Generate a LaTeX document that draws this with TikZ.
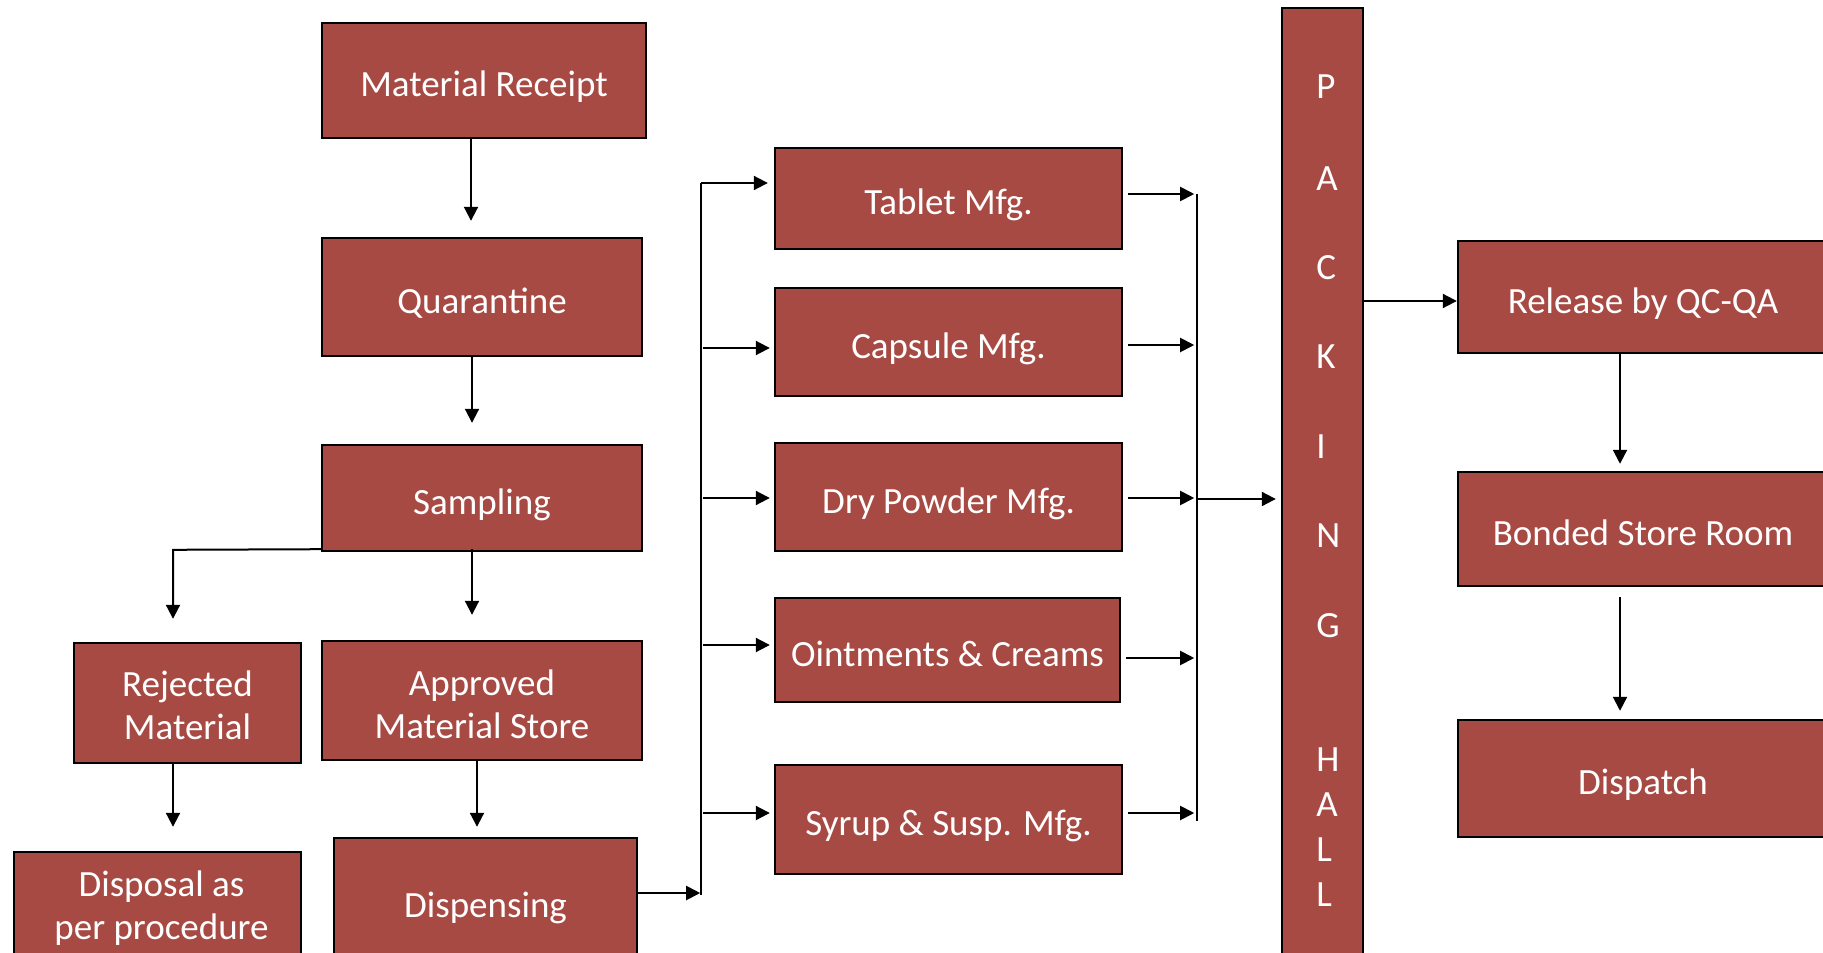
\documentclass[tikz,border=0pt]{standalone}
\usepackage{fontspec}
\setmainfont{Carlito}
\usetikzlibrary{arrows.meta,calc}
\definecolor{boxred}{RGB}{167,74,68}
\tikzset{
 box/.style={draw=black, line width=1.2pt, fill=boxred, text=white, font=\fontsize{18.5}{21.5}\selectfont, inner sep=0pt, align=center,
   execute at begin node={\rule{0pt}{20pt}}, execute at end node={\rule[-4pt]{0pt}{4pt}}},
 emptybox/.style={draw=black, line width=1.2pt, fill=boxred, inner sep=0pt},
 boxtext/.style={text=white, font=\fontsize{18.5}{21.5}\selectfont, inner sep=0pt, align=center},
 arr/.style={line width=1pt, -{Triangle[length=7pt,width=7pt]}},
 ln/.style={line width=1pt},
 letter/.style={text=white, font=\fontsize{18.5}{22}\selectfont, inner sep=0pt, anchor=west}
}
\begin{document}
\begin{tikzpicture}[x=0.5pt,y=-0.5pt]
\useasboundingbox (0,0) rectangle (1823,952);
% left column
\node[box, minimum width=162pt, minimum height=57.5pt] (mr) at (484,80.5) {Material Receipt};
\node[box, minimum width=160pt, minimum height=59pt] (qu) at (482,297) {Quarantine};
\node[box, minimum width=160pt, minimum height=53pt] (sa) at (482,498) {Sampling};
\node[emptybox, minimum width=113.5pt, minimum height=60pt] (rj) at (187.5,703) {};
\node[boxtext] (rjt) at (187.5,705.5) {Rejected\\Material};
\node[emptybox, minimum width=160pt, minimum height=59.5pt] (ap) at (482,700.5) {};
\node[boxtext] (apt) at (482,704) {Approved\\Material Store};
\node[emptybox, minimum width=143.5pt, minimum height=53pt] (dp) at (157.5,905) {};
\node[boxtext] (dpt) at (161.5,908.5) {Disposal as\\per procedure};
\node[box, minimum width=151.5pt, minimum height=63pt] (ds) at (485.5,901) {Dispensing};
% middle column
\node[box, minimum width=173.5pt, minimum height=50.5pt] (tb) at (948.5,198.5) {Tablet Mfg.};
\node[box, minimum width=173.5pt, minimum height=54pt] (cp) at (948.5,342) {Capsule Mfg.};
\node[box, minimum width=173.5pt, minimum height=54pt] (dr) at (948.5,497) {Dry Powder Mfg.};
\node[box, minimum width=172.5pt, minimum height=52pt] (oi) at (947.5,650) {Ointments \& Creams};
\node[box, minimum width=173.5pt, minimum height=54.5pt] (sy) at (948.5,819.5) {Syrup \& Susp. Mfg.};
% packing hall
\node[emptybox, minimum width=40.5pt, minimum height=481pt] (ph) at (1322.5,489) {};
\node[letter] (p1) at (1316,87) {P};
\node[letter] (p2) at (1316,179) {A};
\node[letter] (p3) at (1316,268) {C};
\node[letter] (p4) at (1316,357) {K};
\node[letter] (p5) at (1316,447) {I};
\node[letter] (p6) at (1316,536) {N};
\node[letter] (p7) at (1316,626) {G};
\node[letter] (p8) at (1316,760) {H};
\node[letter] (p9) at (1316,805) {A};
\node[letter] (p10) at (1316,850) {L};
\node[letter] (p11) at (1316,895) {L};
% right column
\node[box, minimum width=185pt, minimum height=56pt] (rl) at (1643,297) {Release by QC-QA};
\node[box, minimum width=185pt, minimum height=57pt] (bd) at (1643,529) {Bonded Store Room};
\node[box, minimum width=185pt, minimum height=58.5pt] (dc) at (1643,778.5) {Dispatch};
% bus coordinates
\coordinate (busT) at (701,183);
\coordinate (busB) at (701,895);
\coordinate (b2T) at (1197,194);
\coordinate (b2B) at (1197,821);
\coordinate (b2M) at (1197,499);
% connectors left
\draw[arr] ($(mr.south)+(-13,0)$) -- ($(qu.north)+(-11,-16)$);
\draw[arr] ($(qu.south)+(-10,0)$) -- ($(sa.north)+(-10,-21)$);
\draw[arr] ($(sa.south)+(-10,-3)$) -- ($(ap.north)+(-10,-25)$);
\draw[arr] ($(sa.south west)+(0,-3)$) -- ($(rj.north)+(-14.5,-92)$) -- ($(rj.north)+(-14.5,-23)$);
\draw[arr] ($(rj.south)+(-14.5,0)$) -- ($(dp.north)+(15.5,-24)$);
\draw[arr] ($(ap.south)+(-5,0)$) -- ($(ds.north)+(-8.5,-10)$);
\draw[arr] ($(ds.east)+(0,-8)$) -- ($(ds.east)+(62,-8)$);
\draw[ln] (busT) -- (busB);
\draw[arr] (busT) -- ($(tb.west)+(-6,-15.5)$);
\draw[arr] ($(cp.west)+(-71,6)$) -- ($(cp.west)+(-4,6)$);
\draw[arr] ($(dr.west)+(-71,1)$) -- ($(dr.west)+(-4,1)$);
\draw[arr] ($(oi.west)+(-71,-5)$) -- ($(oi.west)+(-4,-5)$);
\draw[arr] ($(sy.west)+(-71,-6.5)$) -- ($(sy.west)+(-4,-6.5)$);
% connectors right of mfg
\draw[arr] ($(tb.east)+(5,-4.5)$) -- ($(tb.east)+(71,-4.5)$);
\draw[arr] ($(cp.east)+(5,3)$) -- ($(cp.east)+(71,3)$);
\draw[arr] ($(dr.east)+(5,1)$) -- ($(dr.east)+(71,1)$);
\draw[arr] ($(oi.east)+(5,8)$) -- ($(oi.east)+(73,8)$);
\draw[arr] ($(sy.east)+(5,-6.5)$) -- ($(sy.east)+(71,-6.5)$);
\draw[ln] (b2T) -- (b2B);
\draw[arr] (b2M) -- ($(ph.west)+(-5,10)$);
% right side
\draw[arr] ($(rl.west)+(-95,4)$) -- ($(rl.west)+(0,4)$);
\draw[arr] ($(rl.south)+(-23,0)$) -- ($(bd.north)+(-23,-7)$);
\draw[arr] ($(bd.south)+(-23,10)$) -- ($(dc.north)+(-23,-8)$);
\end{tikzpicture}
\end{document}
